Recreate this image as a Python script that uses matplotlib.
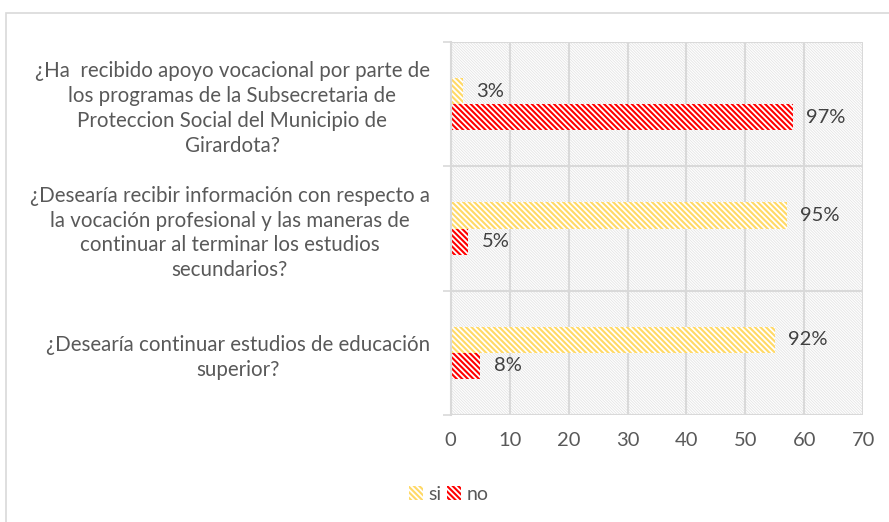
import numpy as np
import matplotlib.pyplot as plt
import matplotlib as mpl
from matplotlib.patches import Rectangle

# data (counts, with percent labels)
preguntas = [
    "¿Ha  recibido apoyo vocacional por parte de\nlos programas de la Subsecretaria de\nProteccion Social del Municipio de\nGirardota?",
    "¿Desearía recibir información con respecto a\nla vocación profesional y las maneras de\ncontinuar al terminar los estudios\nsecundarios?",
    "¿Desearía continuar estudios de educación\nsuperior?",
]
si_vals = [2, 57, 55]
no_vals = [58, 3, 5]
si_pct = ["3%", "95%", "92%"]
no_pct = ["97%", "5%", "8%"]
xticks = [0, 10, 20, 30, 40, 50, 60, 70]

plt.rcParams['font.family'] = ['Lato', 'DejaVu Sans']
plt.rcParams['hatch.linewidth'] = 1.5

GRID = '#D9D9D9'
TXT = '#595959'
SI_C = '#FFD966'
NO_C = '#FF0000'

fig = plt.figure(figsize=(8.89, 5.22), dpi=100)
ax = fig.add_axes([0.507, 0.205, 0.464, 0.7145])

# outer chart border
fig.patches.append(Rectangle((0.0067, -0.02), 1.1, 0.995, transform=fig.transFigure,
                             fill=False, edgecolor=GRID, lw=1.2))

# hatched plot-area background
bg = Rectangle((0, 0), 1, 1, transform=ax.transAxes, facecolor='white',
               edgecolor='#E4E4E4', hatch='\\' * 12, lw=0, zorder=0.2)
if hasattr(bg, 'set_hatch_linewidth'):
    bg.set_hatch_linewidth(0.6)
ax.add_patch(bg)

y = np.arange(len(preguntas))
h = 0.21
b_si = ax.barh(y - h / 2, si_vals, height=h, facecolor='white', edgecolor=SI_C,
               hatch='\\' * 6, lw=0, zorder=2, label='si')
b_no = ax.barh(y + h / 2, no_vals, height=h, facecolor='white', edgecolor=NO_C,
               hatch='\\' * 6, lw=0, zorder=2, label='no')
for b in list(b_si) + list(b_no):
    if hasattr(b, 'set_hatch_linewidth'):
        b.set_hatch_linewidth(1.5)

for yi, v, t in zip(y, si_vals, si_pct):
    ax.text(v + 2.3, yi - h / 2, t, va='center', ha='left', fontsize=14.5, color='#404040')
for yi, v, t in zip(y, no_vals, no_pct):
    ax.text(v + 2.3, yi + h / 2, t, va='center', ha='left', fontsize=14.5, color='#404040')

ax.set_xlim(0, 70)
ax.set_ylim(2.5, -0.5)
ax.set_xticks(xticks)
ax.set_yticks(y)
ax.set_yticklabels(preguntas, multialignment='center', linespacing=1.3)
ax.set_yticks([-0.5, 0.5, 1.5, 2.5], minor=True)

ax.tick_params(axis='x', length=0, pad=12, labelsize=14.5, labelcolor=TXT)
ax.tick_params(axis='y', which='major', length=0, pad=15, labelsize=14.8, labelcolor=TXT)
ax.tick_params(axis='y', which='minor', length=6, width=1.2, color=GRID, direction='out')

ax.set_axisbelow(True)
ax.grid(axis='x', color=GRID, lw=1.5)
ax.grid(axis='y', which='minor', color=GRID, lw=1.5)
for s in ['top', 'right', 'bottom']:
    ax.spines[s].set_visible(False)
ax.spines['left'].set_color(GRID)
ax.spines['left'].set_linewidth(1.5)

leg = fig.legend(handles=[b_si, b_no], loc='lower center', bbox_to_anchor=(0.505, 0.003),
                 ncol=2, frameon=False, fontsize=14, handlelength=0.7, handleheight=0.7,
                 handletextpad=0.3, columnspacing=0.3)
for t in leg.get_texts():
    t.set_color(TXT)

fig.savefig('out.png', dpi=100)
